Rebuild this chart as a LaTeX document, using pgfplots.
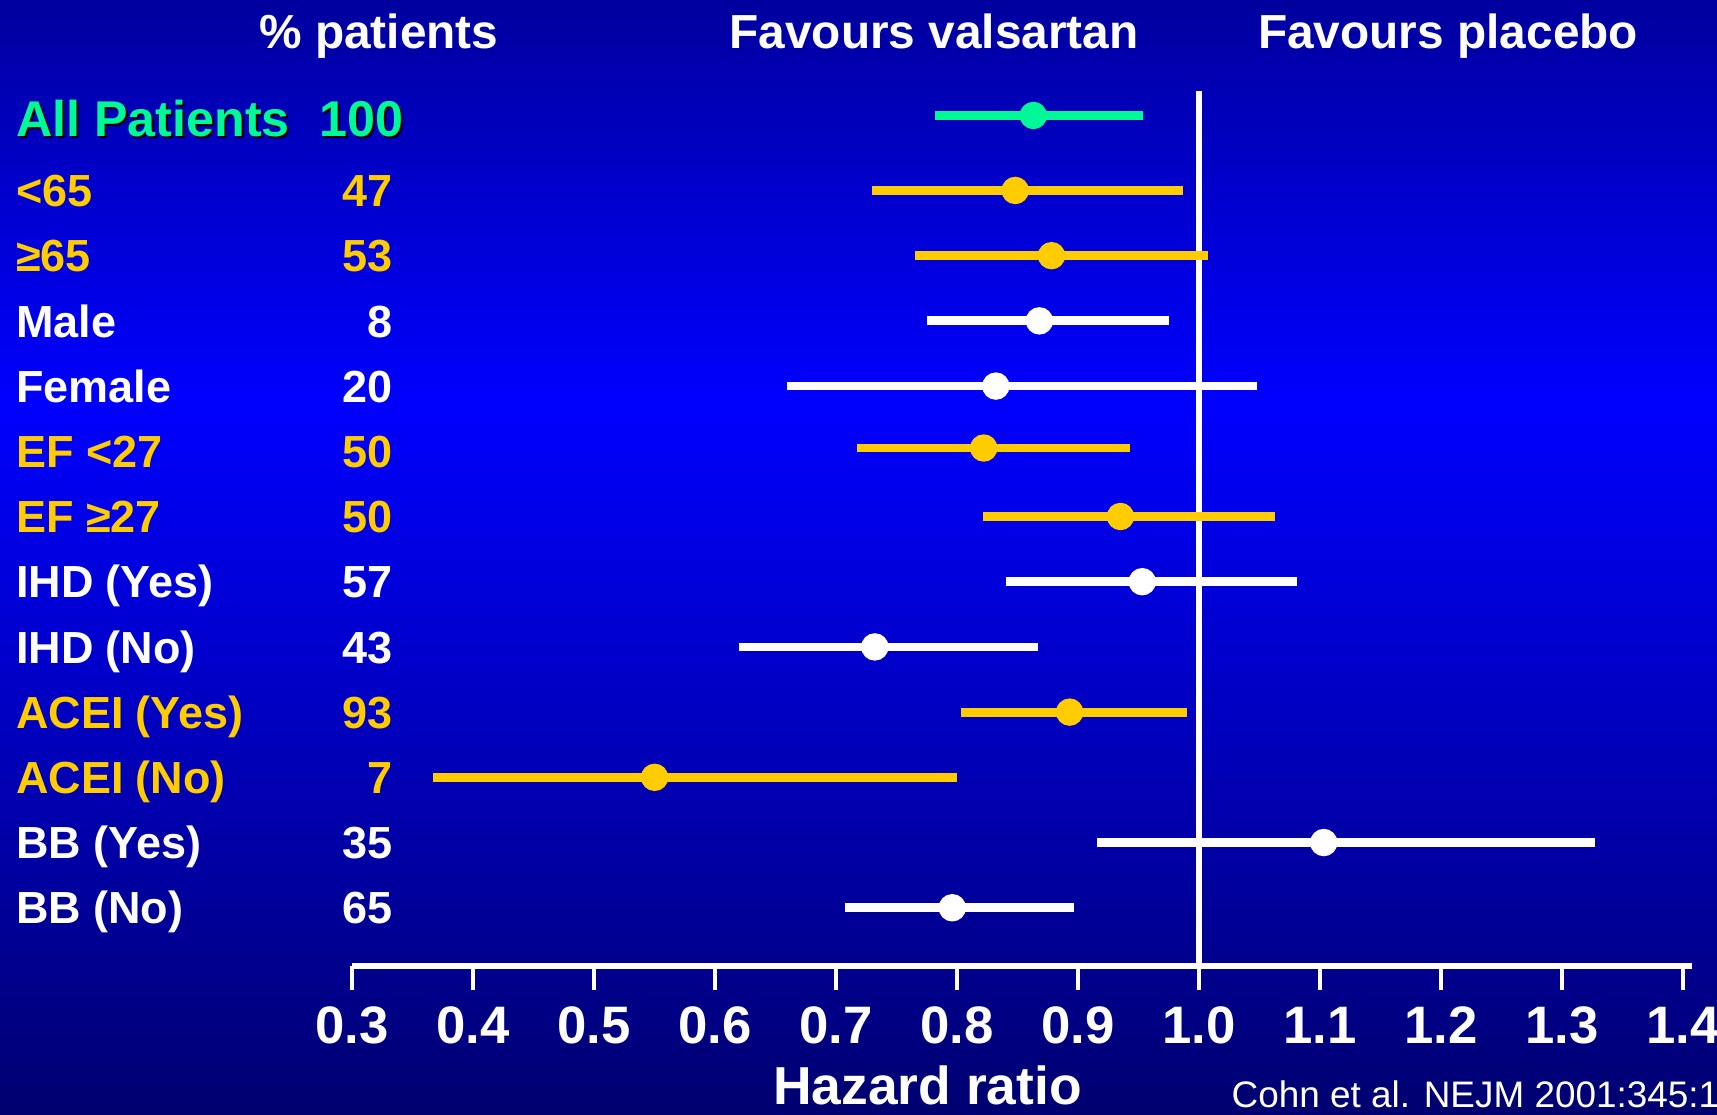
\documentclass[border=0pt]{standalone}
\usepackage{fontspec}
\setmainfont{Liberation Sans}
\usepackage{pgfplots}
\pgfplotsset{compat=1.18}
\usepackage{pgfplotstable}

\definecolor{cgreen}{RGB}{0,248,150}
\definecolor{cyellow}{RGB}{255,204,0}
\definecolor{ctop}{RGB}{0,0,158}
\definecolor{cpeak}{RGB}{0,0,255}
\definecolor{cbot}{RGB}{0,0,112}
\pgfdeclareverticalshading{bgshade}{100bp}{color(0bp)=(cbot); color(25bp)=(cbot); color(57bp)=(cpeak); color(75bp)=(ctop); color(100bp)=(ctop)}

\newcommand\rowfont{\bfseries\fontsize{12.8pt}{15pt}\selectfont}
\newcommand\allfont{\bfseries\fontsize{14.3pt}{17pt}\selectfont}
\newcommand\headfont{\bfseries\fontsize{13.6pt}{16pt}\selectfont}

% r = row position, lo / hr / hi = lower CI, hazard ratio, upper CI
\pgfplotstableread{
r lo hr hi
13.15 0.782 0.863 0.954
}\allrow
\pgfplotstableread{
r lo hr hi
12 0.730 0.848 0.987
11 0.765 0.878 1.007
8.05 0.717 0.822 0.943
7 0.821 0.935 1.063
4 0.803 0.893 0.990
3 0.367 0.550 0.800
}\yellowrows
\pgfplotstableread{
r lo hr hi
10 0.775 0.868 0.975
9 0.659 0.832 1.048
6 0.840 0.953 1.081
5 0.620 0.732 0.867
2 0.916 1.103 1.327
1 0.707 0.796 0.897
}\whiterows

\pgfplotsset{
  forest/.style={only marks, mark=*, mark size=3.7pt,
    mark options={draw=none, fill=#1}, color=#1,
    error bars/.cd, x dir=both, x explicit,
    error bar style={line width=2.5pt, color=#1}, error mark=none},
}

\begin{document}
\begin{tikzpicture}
\useasboundingbox (0,0) rectangle (17.17,11.15);
\shade[shading=bgshade] (0,0) rectangle (17.17,11.15);

\begin{axis}[
  at={(3.521cm,1.492cm)}, anchor=south west,
  scale only axis, width=13.395cm, height=8.749cm,
  xmin=0.3, xmax=1.407, ymin=0.11, ymax=13.527,
  axis x line*=bottom, axis y line=none,
  x axis line style={white, line width=1.6pt, -},
  xtick={0.3,0.4,0.5,0.6,0.7,0.8,0.9,1.0,1.1,1.2,1.3,1.4},
  ytick=\empty,
  xtick align=outside, major tick length=0.243cm,
  tick style={white, line width=1.28pt},
  xticklabel style={text=white, yshift=-1.3pt, font=\bfseries\fontsize{15pt}{18pt}\selectfont,
    /pgf/number format/.cd, fixed, fixed zerofill, precision=1, assume math mode=true},
  clip=false,
]
% reference line at HR = 1
\addplot[white, line width=1.56pt] coordinates {(1,0.11) (1,13.527)};

\addplot[forest=cgreen] table[x=hr, y=r,
  x error plus expr=\thisrow{hi}-\thisrow{hr},
  x error minus expr=\thisrow{hr}-\thisrow{lo}] {\allrow};
\addplot[forest=cyellow] table[x=hr, y=r,
  x error plus expr=\thisrow{hi}-\thisrow{hr},
  x error minus expr=\thisrow{hr}-\thisrow{lo}] {\yellowrows};
\addplot[forest=white] table[x=hr, y=r,
  x error plus expr=\thisrow{hi}-\thisrow{hr},
  x error minus expr=\thisrow{hr}-\thisrow{lo}] {\whiterows};

% row labels
\node[anchor=base west, inner sep=0pt, text=black, font=\allfont, xshift=0.6pt, yshift=-6.5pt] at (axis cs:0.0217,13.15) {All Patients};
\node[anchor=base east, inner sep=0pt, text=black, font=\allfont, xshift=0.6pt, yshift=-6.5pt] at (axis cs:0.3429,13.15) {100};
\node[anchor=base west, inner sep=0pt, text=cgreen, font=\allfont, yshift=-5.9pt] at (axis cs:0.0217,13.15) {All Patients};
\node[anchor=base east, inner sep=0pt, text=cgreen, font=\allfont, yshift=-5.9pt] at (axis cs:0.3429,13.15) {100};

\node[anchor=base west, inner sep=0pt, text=cyellow, font=\rowfont, yshift=-4.6pt] at (axis cs:0.0217,12) {<65};
\node[anchor=base east, inner sep=0pt, text=cyellow, font=\rowfont, yshift=-4.6pt] at (axis cs:0.3339,12) {47};
\node[anchor=base west, inner sep=0pt, text=cyellow, font=\rowfont, yshift=-4.6pt] at (axis cs:0.0217,11) {≥65};
\node[anchor=base east, inner sep=0pt, text=cyellow, font=\rowfont, yshift=-4.6pt] at (axis cs:0.3339,11) {53};
\node[anchor=base west, inner sep=0pt, text=white, font=\rowfont, yshift=-4.6pt] at (axis cs:0.0217,10) {Male};
\node[anchor=base east, inner sep=0pt, text=white, font=\rowfont, yshift=-4.6pt] at (axis cs:0.3339,10) {8};
\node[anchor=base west, inner sep=0pt, text=white, font=\rowfont, yshift=-4.6pt] at (axis cs:0.0217,9) {Female};
\node[anchor=base east, inner sep=0pt, text=white, font=\rowfont, yshift=-4.6pt] at (axis cs:0.3339,9) {20};
\node[anchor=base west, inner sep=0pt, text=cyellow, font=\rowfont, yshift=-4.6pt] at (axis cs:0.0217,8) {EF <27};
\node[anchor=base east, inner sep=0pt, text=cyellow, font=\rowfont, yshift=-4.6pt] at (axis cs:0.3339,8) {50};
\node[anchor=base west, inner sep=0pt, text=cyellow, font=\rowfont, yshift=-4.6pt] at (axis cs:0.0217,7) {EF ≥27};
\node[anchor=base east, inner sep=0pt, text=cyellow, font=\rowfont, yshift=-4.6pt] at (axis cs:0.3339,7) {50};
\node[anchor=base west, inner sep=0pt, text=white, font=\rowfont, yshift=-4.6pt] at (axis cs:0.0217,6) {IHD (Yes)};
\node[anchor=base east, inner sep=0pt, text=white, font=\rowfont, yshift=-4.6pt] at (axis cs:0.3339,6) {57};
\node[anchor=base west, inner sep=0pt, text=white, font=\rowfont, yshift=-4.6pt] at (axis cs:0.0217,5) {IHD (No)};
\node[anchor=base east, inner sep=0pt, text=white, font=\rowfont, yshift=-4.6pt] at (axis cs:0.3339,5) {43};
\node[anchor=base west, inner sep=0pt, text=cyellow, font=\rowfont, yshift=-4.6pt] at (axis cs:0.0217,4) {ACEI (Yes)};
\node[anchor=base east, inner sep=0pt, text=cyellow, font=\rowfont, yshift=-4.6pt] at (axis cs:0.3339,4) {93};
\node[anchor=base west, inner sep=0pt, text=cyellow, font=\rowfont, yshift=-4.6pt] at (axis cs:0.0217,3) {ACEI (No)};
\node[anchor=base east, inner sep=0pt, text=cyellow, font=\rowfont, yshift=-4.6pt] at (axis cs:0.3339,3) {7};
\node[anchor=base west, inner sep=0pt, text=white, font=\rowfont, yshift=-4.6pt] at (axis cs:0.0217,2) {BB (Yes)};
\node[anchor=base east, inner sep=0pt, text=white, font=\rowfont, yshift=-4.6pt] at (axis cs:0.3339,2) {35};
\node[anchor=base west, inner sep=0pt, text=white, font=\rowfont, yshift=-4.6pt] at (axis cs:0.0217,1) {BB (No)};
\node[anchor=base east, inner sep=0pt, text=white, font=\rowfont, yshift=-4.6pt] at (axis cs:0.3339,1) {65};
\end{axis}

% headers and footer
\node[anchor=base, inner sep=0pt, text=white, font=\headfont] at (3.789,10.667) {\% patients};
\node[anchor=base, inner sep=0pt, text=white, font=\headfont] at (9.34,10.667) {Favours valsartan};
\node[anchor=base, inner sep=0pt, text=white, font=\headfont] at (14.481,10.667) {Favours placebo};
\node[anchor=base, inner sep=0pt, text=white, font=\bfseries\fontsize{15.2pt}{18pt}\selectfont] at (9.275,0.10) {Hazard ratio};
\node[anchor=base west, inner sep=0pt, text=white, font=\fontsize{10.5pt}{12pt}\selectfont] at (12.31,0.07) {Cohn et al. NEJM 2001:345:1};
\end{tikzpicture}
\end{document}
